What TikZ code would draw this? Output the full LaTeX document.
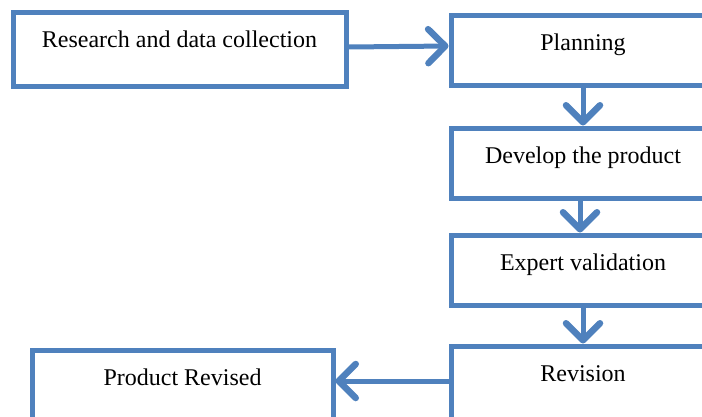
\documentclass[tikz,border=0pt]{standalone}
\usepackage{fontspec}
\setmainfont{Liberation Serif}
\usepackage{tikz}
\usetikzlibrary{arrows.meta,positioning}
\definecolor{cadre}{HTML}{4F81BD}
\tikzset{
    etape/.style={
        draw=cadre,
        line width=5pt,
        fill=white,
        inner xsep=0pt,
        inner ysep=0pt,
        text height=35pt,
        font=\fontsize{24}{28}\selectfont
    },
    fleche/.style={
        -{Straight Barb[length=17pt,width=34pt,line width=6.5pt,round]},
        line width=5pt,
        color=cadre
    }
}

\begin{document}
\begin{tikzpicture}[x=1pt,y=-1pt]

    % Cadre
    \useasboundingbox
        (0,0) rectangle (702,416);

    % Recherche
    \node[
        etape,
        minimum width=333pt,
        text depth=39pt
    ]
        (research) at (179.5,49)
        {Research and data collection};

    % Planification
    \node[
        etape,
        minimum width=264pt,
        text depth=35pt
    ]
        (planning) at (583,50)
        {Planning};

    % Développement
    \node[
        etape,
        minimum width=264pt,
        text depth=35pt
    ]
        (develop) at (583,163)
        {Develop the product};

    % Validation
    \node[
        etape,
        minimum width=264pt,
        text depth=35pt
    ]
        (expert) at (583,270)
        {Expert validation};

    % Révision
    \node[
        etape,
        minimum width=264pt,
        text depth=45pt
    ]
        (revision) at (583,386)
        {Revision};

    % Produit révisé
    \node[
        etape,
        minimum width=301pt,
        text depth=45pt
    ]
        (product) at (182.5,390)
        {Product Revised};

    % Flèches
    \draw[fleche]
        ([yshift=2pt]research.east)
        -- ([yshift=4pt]planning.west);

    \draw[fleche]
        (planning.south)
        -- (develop.north);

    \draw[fleche]
        ([xshift=-3pt]develop.south)
        -- ([xshift=-3pt]expert.north);

    \draw[fleche]
        (expert.south)
        -- (revision.north);

    \draw[fleche]
        ([yshift=5pt]revision.west)
        -- ([yshift=5pt]revision.west -| product.east);

\end{tikzpicture}
\end{document}
